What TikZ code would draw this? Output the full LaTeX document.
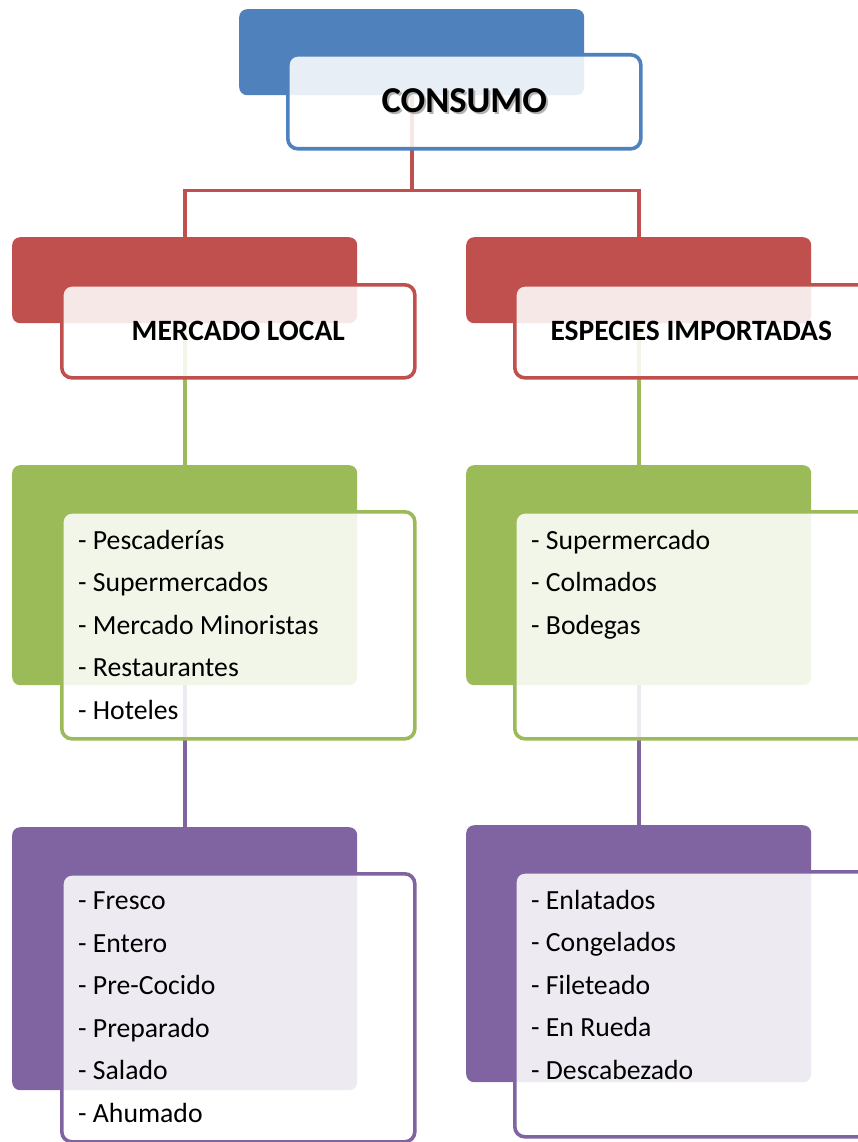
\documentclass[tikz,border=0pt]{standalone}
\usepackage{fontspec}
\setmainfont{Carlito}
\usetikzlibrary{calc,positioning}
\definecolor{offblue}{HTML}{4F81BD}
\definecolor{offred}{HTML}{C0504D}
\definecolor{offgreen}{HTML}{9BBB59}
\definecolor{offpurple}{HTML}{8064A2}

\begin{document}
\begin{tikzpicture}[x=1pt,y=-1pt,
 back/.style={rounded corners=8pt,minimum width=345pt,anchor=north west,inner sep=0pt},
 front/.style={draw=#1,fill=white,fill opacity=.87,text opacity=1,line width=3.6pt,rounded corners=10pt,
  minimum width=353pt,anchor=north west,inner sep=0pt},
 head/.style={font=\bfseries\fontsize{29.5}{31}\selectfont},
 items/.style={font=\fontsize{27.7}{42.5}\selectfont,align=left,anchor=north west,inner sep=0pt},
 link/.style={line width=3.6pt,draw=#1}]
\useasboundingbox (0,0) rectangle (858,1142);
\clip (0,0) rectangle (858,1142);
% back plates
\node[back,fill=offblue,minimum height=86pt] (conBack) at (239,9) {};
\node[back,fill=offred,minimum height=86pt] (mlBack) at (12,237) {};
\node[back,fill=offred,minimum height=86pt] (eiBack) at (466,237) {};
\node[back,fill=offgreen,minimum height=220pt] (mlgBack) at (12,465) {};
\node[back,fill=offgreen,minimum height=220pt] (eigBack) at (466,465) {};
\node[back,fill=offpurple,minimum height=263pt] (mlpBack) at (12,827) {};
\node[back,fill=offpurple,minimum height=257pt] (eipBack) at (466,825) {};
% connectors
\coordinate (split) at ([yshift=-95pt]conBack.south);
\draw[link=offred] (conBack.south) -- (split) -| (mlBack.north);
\draw[link=offred] (split) -| (eiBack.north);
\draw[link=offgreen] (mlBack.south) -- (mlgBack.north);
\draw[link=offgreen] (eiBack.south) -- (eigBack.north);
\draw[link=offpurple] (mlgBack.south) -- (mlpBack.north);
\draw[link=offpurple] (eigBack.south) -- (eipBack.north);
% front boxes
\node[front=offblue,minimum height=94pt,font=\bfseries\fontsize{36.5}{40}\selectfont] (con)
 at ([shift={(47,44)}]conBack.north west)
 {\rlap{\raisebox{-2pt}{\kern2pt\textcolor{black!30}{CONSUMO}}}CONSUMO};
\node[front=offred,minimum height=93pt,head] (ml) at ([shift={(48,46)}]mlBack.north west) {MERCADO LOCAL};
\node[front=offred,minimum height=93pt,head] (ei) at ([shift={(47,46)}]eiBack.north west) {ESPECIES IMPORTADAS};
\node[front=offgreen,minimum height=227pt] (mlg) at ([shift={(48,45)}]mlgBack.north west) {};
\node[front=offgreen,minimum height=227pt] (eig) at ([shift={(47,45)}]eigBack.north west) {};
\node[front=offpurple,minimum height=268pt] (mlp) at ([shift={(48,45)}]mlpBack.north west) {};
\node[front=offpurple,minimum height=265pt] (eip) at ([shift={(47,45)}]eipBack.north west) {};
% lists
\node[items] (mlgItems) at ([shift={(18,20)}]mlg.north west)
 {- Pescaderías\\- Supermercados\\- Mercado Minoristas\\- Restaurantes\\- Hoteles};
\node[items] (eigItems) at ([shift={(18,20)}]eig.north west)
 {- Supermercado\\- Colmados\\- Bodegas};
\node[items] (mlpItems) at ([shift={(18,20)}]mlp.north west)
 {- Fresco\\- Entero\\- Pre-Cocido\\- Preparado\\- Salado\\- Ahumado};
\node[items] (eipItems) at ([shift={(18,20)}]eip.north west)
 {- Enlatados\\- Congelados\\- Fileteado\\- En Rueda\\- Descabezado};
\end{tikzpicture}
\end{document}
